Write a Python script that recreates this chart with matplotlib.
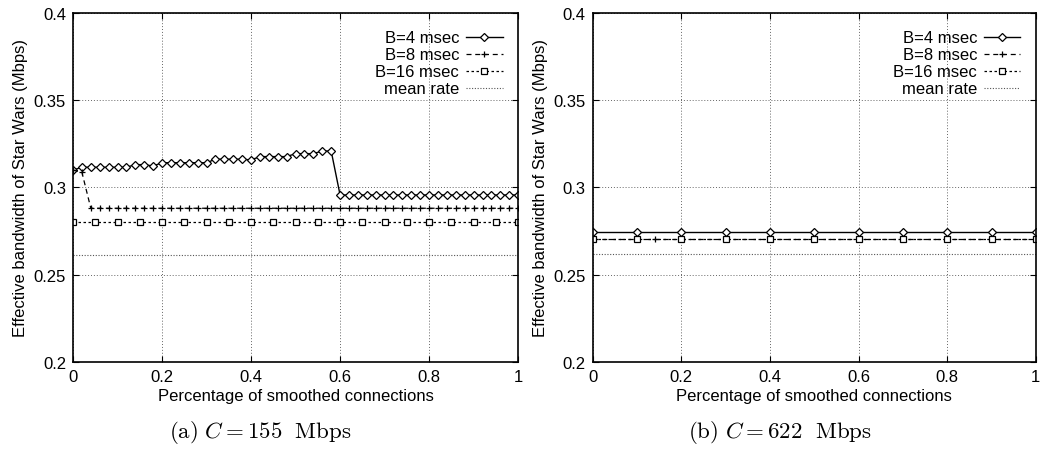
import numpy as np
import matplotlib
matplotlib.use("Agg")
import matplotlib.pyplot as plt

plt.rcParams['font.family'] = ['Liberation Sans', 'DejaVu Sans']
plt.rcParams['mathtext.fontset'] = 'cm'

# --- C = 155 Mbps ---
x_a = np.round(np.arange(0, 1.0001, 0.02), 2)
b4_a = [0.3100, 0.3116, 0.3116, 0.3116, 0.3116, 0.3116, 0.3116, 0.3131, 0.3131, 0.3123,
        0.3142, 0.3142, 0.3142, 0.3142, 0.3142, 0.3142, 0.3162, 0.3162, 0.3162, 0.3162,
        0.3158, 0.3177, 0.3177, 0.3177, 0.3177, 0.3194, 0.3194, 0.3194, 0.3209, 0.3209,
        0.2957, 0.2957, 0.2957, 0.2957, 0.2957, 0.2957, 0.2957, 0.2957, 0.2957, 0.2957,
        0.2957, 0.2957, 0.2957, 0.2957, 0.2957, 0.2957, 0.2957, 0.2957, 0.2957, 0.2957,
        0.2957]
b8_a = [0.3100, 0.3087, 0.2881, 0.2881, 0.2881, 0.2881, 0.2881, 0.2881, 0.2881, 0.2881,
        0.2881, 0.2881, 0.2881, 0.2881, 0.2881, 0.2881, 0.2881, 0.2881, 0.2881, 0.2881,
        0.2881, 0.2881, 0.2881, 0.2881, 0.2881, 0.2881, 0.2881, 0.2881, 0.2881, 0.2881,
        0.2881, 0.2881, 0.2881, 0.2881, 0.2881, 0.2881, 0.2881, 0.2881, 0.2881, 0.2881,
        0.2881, 0.2881, 0.2881, 0.2881, 0.2881, 0.2881, 0.2881, 0.2881, 0.2881, 0.2881,
        0.2881]
x16_a = np.round(np.arange(0, 1.0001, 0.05), 2)
b16_a = [0.2805] * 21
mean_a = 0.2615

# --- C = 622 Mbps ---
x_b = np.round(np.arange(0, 1.0001, 0.1), 2)
b4_b = [0.2747] * 11
x8_b = [0.0, 0.1, 0.14, 0.2, 0.3, 0.4, 0.5, 0.6, 0.7, 0.8, 0.9, 1.0]
b8_b = [0.2702] * 12
b16_b = [0.2702] * 11
mean_b = 0.2619

xticks = [0, 0.2, 0.4, 0.6, 0.8, 1]
xticklabels = ['0', '0.2', '0.4', '0.6', '0.8', '1']
yticks = [0.2, 0.25, 0.3, 0.35, 0.4]
yticklabels = ['0.2', '0.25', '0.3', '0.35', '0.4']

fig = plt.figure(figsize=(10.4, 4.52), dpi=100)
ax1 = fig.add_axes([0.0702, 0.197, 0.428, 0.772])
ax2 = fig.add_axes([0.570, 0.197, 0.426, 0.772])


def draw(ax, x4, y4, x8, y8, x16, y16, mean):
    ax.plot(x4, y4, color='black', lw=1.0, marker='D', ms=3.8, mfc='white',
            mec='black', mew=0.9, label='B=4 msec')
    ax.plot(x8, y8, color='black', lw=0.9, ls=(0, (4, 3)), marker='+', ms=5,
            mew=0.9, label='B=8 msec')
    ax.plot(x16, y16, color='black', lw=0.9, ls=(0, (2, 2)), marker='s', ms=4.3,
            mfc='white', mec='black', mew=0.9, label='B=16 msec')
    ax.axhline(mean, color='#555555', lw=0.8, ls=(0, (1, 1.5)), label='mean rate')
    ax.set_xlim(0, 1)
    ax.set_ylim(0.2, 0.4)
    ax.set_xticks(xticks)
    ax.set_xticklabels(xticklabels)
    ax.set_yticks(yticks)
    ax.set_yticklabels(yticklabels)
    ax.grid(True, color='#666666', ls=(0, (1, 2)), lw=0.7)
    ax.tick_params(direction='in', length=4, top=True, right=True,
                   labelsize=12, pad=5)
    for s in ax.spines.values():
        s.set_linewidth(1.2)
    ax.set_xlabel('Percentage of smoothed connections', fontsize=12, labelpad=3)
    ax.set_ylabel('Effective bandwidth of Star Wars (Mbps)', fontsize=12, labelpad=4)
    ax.legend(loc='upper right', frameon=False, markerfirst=False, fontsize=12,
              handlelength=2.2, handletextpad=0.4, labelspacing=0.12,
              borderaxespad=0.0, borderpad=0.0, bbox_to_anchor=(0.965, 0.95))
    for t in ax.get_legend().get_texts():
        t.set_ha('right')


draw(ax1, x_a, b4_a, x_a, b8_a, x16_a, b16_a, mean_a)
draw(ax2, x_b, b4_b, x8_b, b8_b, x_b, b16_b, mean_b)

fig.text(0.25, 0.03, r'$\mathrm{(a)}\ C = 155\ \ \mathrm{Mbps}$', ha='center', fontsize=16.5)
fig.text(0.75, 0.03, r'$\mathrm{(b)}\ C = 622\ \ \mathrm{Mbps}$', ha='center', fontsize=16.5)

fig.savefig('out.png', dpi=100)
